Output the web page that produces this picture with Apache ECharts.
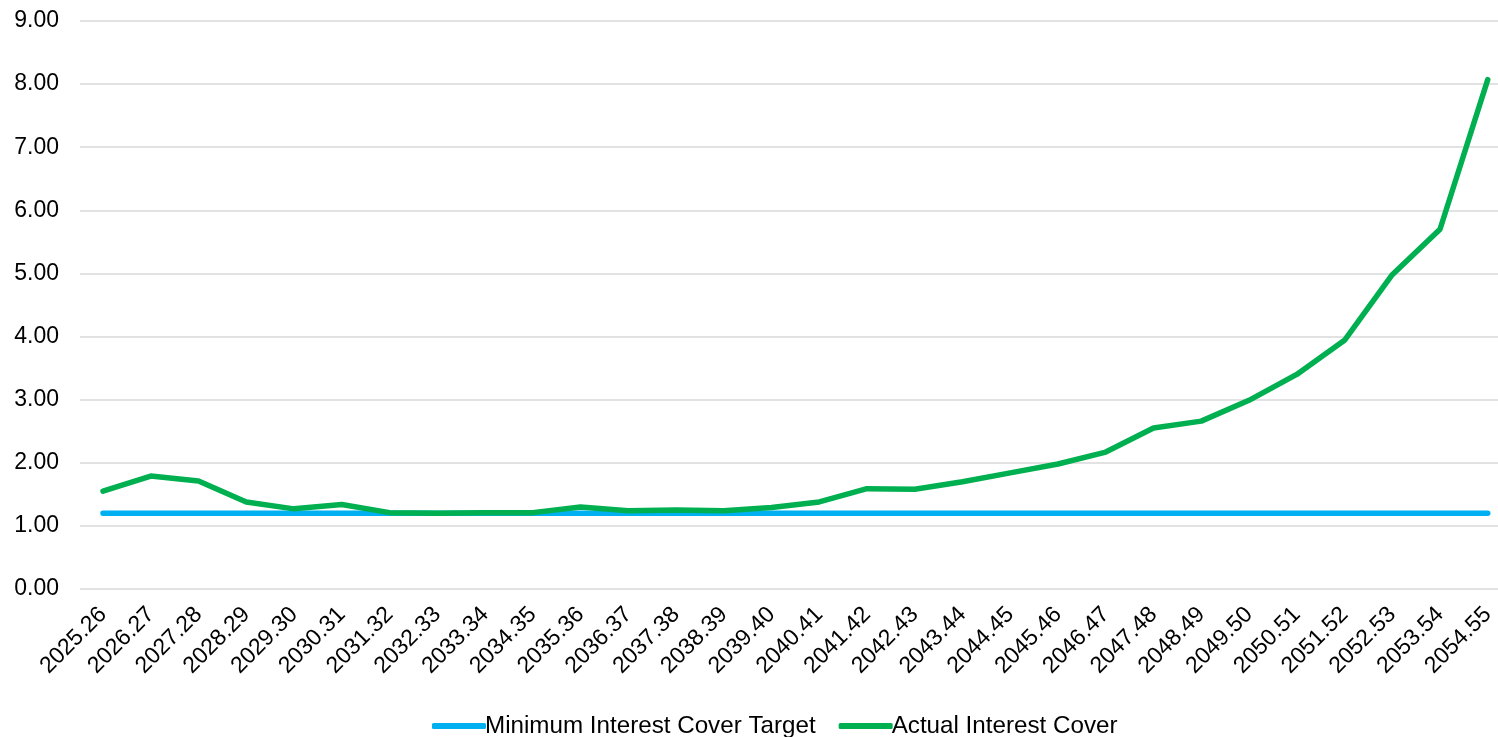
<!DOCTYPE html>
<html>
<head>
<meta charset="utf-8">
<script src="https://cdn.jsdelivr.net/npm/echarts@6/dist/echarts.min.js"></script>
<style>
  html, body { margin: 0; padding: 0; background: #fff; }
  #chart { width: 1498px; height: 737px; }
</style>
</head>
<body>
<div id="chart"></div>
<script>
// financial years
var years = ['2025.26', '2026.27', '2027.28', '2028.29', '2029.30', '2030.31', '2031.32', '2032.33',
  '2033.34', '2034.35', '2035.36', '2036.37', '2037.38', '2038.39', '2039.40', '2040.41',
  '2041.42', '2042.43', '2043.44', '2044.45', '2045.46', '2046.47', '2047.48', '2048.49',
  '2049.50', '2050.51', '2051.52', '2052.53', '2053.54', '2054.55'];

var minTarget = [1.20, 1.20, 1.20, 1.20, 1.20, 1.20, 1.20, 1.20, 1.20, 1.20,
  1.20, 1.20, 1.20, 1.20, 1.20, 1.20, 1.20, 1.20, 1.20, 1.20,
  1.20, 1.20, 1.20, 1.20, 1.20, 1.20, 1.20, 1.20, 1.20, 1.20];

var actualCover = [1.55, 1.79, 1.71, 1.38, 1.27, 1.34, 1.21, 1.20, 1.21, 1.21,
  1.30, 1.24, 1.25, 1.24, 1.29, 1.38, 1.59, 1.58, 1.70, 1.84,
  1.98, 2.17, 2.55, 2.66, 2.99, 3.40, 3.94, 4.98, 5.70, 8.07];

var yMin = 0, yMax = 9, yStep = 1;

var font = 'Liberation Sans, Arial, sans-serif';
var chart = echarts.init(document.getElementById('chart'));

var option = {
  animation: false,
  textStyle: { fontFamily: font },
  // grid 0 carries the gridlines + y labels, grid 1 carries the lines and year labels
  grid: [
    { left: 80, right: 0, top: 21, height: 568 },
    { left: 103, width: 1385, top: 21, height: 568 }
  ],
  legend: {
    top: 709,
    left: 427,
    itemWidth: 54,
    itemHeight: 6,
    itemGap: 23,
    textStyle: { fontSize: 24.2, color: '#000', fontFamily: font, padding: [0, 0, 0, -6] },
    data: [
      { name: 'Minimum Interest Cover Target', icon: 'roundRect' },
      { name: 'Actual Interest Cover', icon: 'roundRect' }
    ]
  },
  xAxis: [
    { gridIndex: 0, type: 'value', min: 0, max: 1, show: false },
    {
      gridIndex: 1,
      type: 'category',
      data: years,
      boundaryGap: false,
      axisLine: { show: false },
      axisTick: { show: false },
      splitLine: { show: false },
      axisLabel: { rotate: 45, fontSize: 23, color: '#000', margin: 22, interval: 0 }
    }
  ],
  yAxis: [
    {
      gridIndex: 0,
      type: 'value',
      min: yMin,
      max: yMax,
      interval: yStep,
      axisLine: { show: false },
      axisTick: { show: false },
      splitLine: { lineStyle: { color: '#d9d9d9', width: 1.5 } },
      axisLabel: {
        fontSize: 23, color: '#000', margin: 21,
        formatter: function (v) { return v.toFixed(2); }
      }
    },
    {
      gridIndex: 1,
      type: 'value',
      min: yMin,
      max: yMax,
      interval: yStep,
      show: false,
      splitLine: { show: false }
    }
  ],
  series: [
    {
      name: 'Minimum Interest Cover Target',
      type: 'line',
      xAxisIndex: 1,
      yAxisIndex: 1,
      data: minTarget,
      symbol: 'none',
      color: '#00B0F0',
      lineStyle: { width: 5.5, color: '#00B0F0', cap: 'round' }
    },
    {
      name: 'Actual Interest Cover',
      type: 'line',
      xAxisIndex: 1,
      yAxisIndex: 1,
      data: actualCover,
      symbol: 'none',
      color: '#00B050',
      lineStyle: { width: 5.5, color: '#00B050', cap: 'round' }
    }
  ]
};

chart.setOption(option);
</script>
</body>
</html>
